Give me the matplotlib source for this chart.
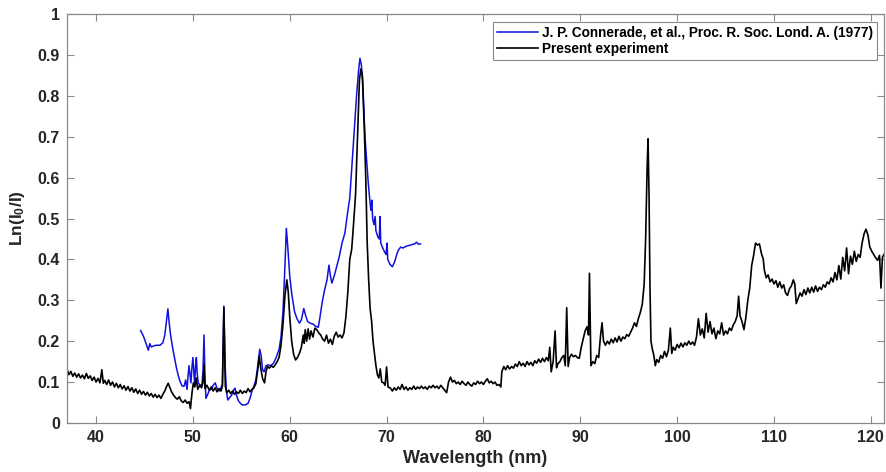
import numpy as np
import matplotlib.pyplot as plt

plt.rcParams['font.family'] = ['Liberation Sans', 'DejaVu Sans']
plt.rcParams['font.weight'] = 'bold'
plt.rcParams['mathtext.fontset'] = 'custom'
plt.rcParams['mathtext.rm'] = 'Liberation Sans:bold'
plt.rcParams['mathtext.it'] = 'Liberation Sans:bold'
plt.rcParams['mathtext.bf'] = 'Liberation Sans:bold'

# Present experiment (black)
wl_exp = [
    37.0, 37.2, 37.4, 37.6, 37.8, 38.0, 38.2, 38.4, 38.6, 38.8, 39.0, 39.2, 39.4, 39.6, 39.8,
    40.0, 40.2, 40.4, 40.6, 40.75, 40.9, 41.1, 41.3, 41.5, 41.7, 41.9, 42.1, 42.3, 42.5, 42.7,
    42.9, 43.1, 43.3, 43.5, 43.7, 43.9, 44.1, 44.3, 44.5, 44.7, 44.9, 45.1, 45.3, 45.5, 45.7,
    45.9, 46.1, 46.3, 46.5, 46.7, 46.9, 47.1, 47.3, 47.45, 47.6, 47.8, 48.0, 48.2, 48.4, 48.6,
    48.8, 49.0, 49.2, 49.4, 49.6, 49.75, 49.9, 50.05, 50.2, 50.35, 50.5, 50.7, 50.9, 51.05, 51.15,
    51.25, 51.45, 51.7, 51.9, 52.1, 52.3, 52.5, 52.7, 52.9, 53.05, 53.2, 53.35, 53.5, 53.7, 53.9,
    54.1, 54.3, 54.5, 54.7, 54.9, 55.1, 55.3, 55.5, 55.7, 55.9, 56.1, 56.3, 56.5, 56.7, 56.85,
    57.0, 57.2, 57.4, 57.55, 57.7, 57.9, 58.1, 58.3, 58.5, 58.7, 58.9, 59.1, 59.3, 59.5, 59.7,
    59.85, 60.0, 60.2, 60.4, 60.6, 60.8, 61.0, 61.2, 61.4, 61.5, 61.6, 61.75, 61.9, 62.05, 62.2,
    62.4, 62.6, 62.8, 63.0, 63.2, 63.4, 63.6, 63.8, 64.0, 64.2, 64.4, 64.6, 64.8, 65.0, 65.2,
    65.4, 65.6, 65.8, 66.0, 66.2, 66.4, 66.6, 66.8, 67.0, 67.2, 67.35, 67.5, 67.7, 67.85, 68.0,
    68.15, 68.3, 68.45, 68.6, 68.75, 68.9, 69.05, 69.2, 69.35, 69.5, 69.7, 69.85, 70.0, 70.15, 70.4,
    70.6, 70.8, 71.0, 71.2, 71.4, 71.6, 71.8, 72.0, 72.2, 72.4, 72.6, 72.8, 73.0, 73.2, 73.4,
    73.6, 73.8, 74.0, 74.2, 74.4, 74.6, 74.8, 75.0, 75.2, 75.4, 75.6, 75.8, 76.0, 76.2, 76.4,
    76.6, 76.8, 77.0, 77.2, 77.4, 77.6, 77.8, 78.0, 78.2, 78.4, 78.6, 78.8, 79.0, 79.2, 79.4,
    79.6, 79.8, 80.0, 80.2, 80.4, 80.6, 80.8, 81.0, 81.2, 81.4, 81.6, 81.8, 81.9, 82.1, 82.3,
    82.5, 82.7, 82.9, 83.1, 83.3, 83.5, 83.7, 83.9, 84.1, 84.3, 84.5, 84.7, 84.9, 85.1, 85.3,
    85.5, 85.7, 85.9, 86.1, 86.3, 86.5, 86.7, 86.85, 87.0, 87.2, 87.4, 87.55, 87.7, 87.9, 88.1,
    88.3, 88.45, 88.6, 88.75, 88.9, 89.1, 89.3, 89.5, 89.7, 89.9, 90.1, 90.3, 90.5, 90.7, 90.85,
    90.95, 91.1, 91.3, 91.5, 91.7, 91.9, 92.1, 92.25, 92.4, 92.6, 92.8, 93.0, 93.2, 93.4, 93.6,
    93.8, 94.0, 94.2, 94.4, 94.6, 94.8, 95.0, 95.2, 95.4, 95.6, 95.8, 96.0, 96.2, 96.4, 96.6,
    96.75, 96.9, 97.0, 97.1, 97.2, 97.3, 97.45, 97.6, 97.75, 97.9, 98.1, 98.3, 98.5, 98.7, 98.9,
    99.1, 99.3, 99.45, 99.6, 99.8, 100.0, 100.2, 100.4, 100.6, 100.8, 101.0, 101.2, 101.4, 101.6, 101.8,
    102.0, 102.2, 102.4, 102.6, 102.8, 103.0, 103.2, 103.4, 103.6, 103.8, 104.0, 104.2, 104.4, 104.6, 104.8,
    105.0, 105.2, 105.4, 105.6, 105.8, 106.0, 106.2, 106.35, 106.5, 106.7, 106.9, 107.1, 107.3, 107.5, 107.7,
    107.9, 108.1, 108.3, 108.5, 108.7, 108.9, 109.0, 109.2, 109.4, 109.6, 109.8, 110.0, 110.2, 110.4, 110.6,
    110.8, 111.0, 111.2, 111.4, 111.6, 111.8, 112.0, 112.15, 112.3, 112.5, 112.7, 112.9, 113.1, 113.3, 113.5,
    113.7, 113.9, 114.1, 114.3, 114.5, 114.7, 114.9, 115.1, 115.3, 115.5, 115.7, 115.9, 116.1, 116.3, 116.5,
    116.7, 116.9, 117.1, 117.3, 117.5, 117.7, 117.9, 118.1, 118.3, 118.5, 118.7, 118.9, 119.1, 119.3, 119.5,
    119.7, 119.9, 120.1, 120.3, 120.5, 120.7, 120.9, 121.05, 121.2, 121.35,
]
ln_exp = [
    0.132, 0.118, 0.126, 0.114, 0.122, 0.112, 0.120, 0.110, 0.117, 0.108, 0.121, 0.109, 0.115, 0.104, 0.112,
    0.100, 0.109, 0.098, 0.130, 0.097, 0.104, 0.094, 0.105, 0.092, 0.100, 0.088, 0.097, 0.086, 0.094, 0.083,
    0.091, 0.080, 0.089, 0.078, 0.086, 0.075, 0.083, 0.072, 0.080, 0.070, 0.077, 0.068, 0.075, 0.066, 0.072,
    0.063, 0.070, 0.062, 0.068, 0.060, 0.070, 0.078, 0.090, 0.097, 0.088, 0.076, 0.068, 0.062, 0.058, 0.064,
    0.054, 0.050, 0.056, 0.048, 0.052, 0.035, 0.072, 0.098, 0.088, 0.110, 0.082, 0.092, 0.086, 0.100, 0.142,
    0.084, 0.092, 0.080, 0.088, 0.078, 0.086, 0.076, 0.084, 0.078, 0.090, 0.282, 0.090, 0.074, 0.080, 0.072,
    0.078, 0.070, 0.076, 0.072, 0.080, 0.072, 0.078, 0.074, 0.084, 0.076, 0.082, 0.086, 0.096, 0.130, 0.164,
    0.135, 0.108, 0.098, 0.125, 0.138, 0.134, 0.140, 0.136, 0.142, 0.150, 0.160, 0.190, 0.240, 0.310, 0.350,
    0.320, 0.260, 0.200, 0.168, 0.154, 0.160, 0.170, 0.185, 0.215, 0.195, 0.228, 0.200, 0.230, 0.205, 0.225,
    0.210, 0.232, 0.228, 0.220, 0.215, 0.205, 0.200, 0.215, 0.195, 0.205, 0.192, 0.212, 0.222, 0.210, 0.215,
    0.208, 0.220, 0.260, 0.320, 0.400, 0.425, 0.490, 0.560, 0.700, 0.840, 0.866, 0.850, 0.720, 0.600, 0.440,
    0.350, 0.280, 0.250, 0.200, 0.170, 0.140, 0.118, 0.110, 0.132, 0.100, 0.098, 0.092, 0.137, 0.088, 0.085,
    0.078, 0.086, 0.080, 0.088, 0.082, 0.094, 0.082, 0.088, 0.080, 0.086, 0.082, 0.090, 0.082, 0.088, 0.084,
    0.090, 0.084, 0.088, 0.082, 0.090, 0.086, 0.092, 0.086, 0.090, 0.084, 0.092, 0.086, 0.080, 0.074, 0.100,
    0.112, 0.100, 0.104, 0.096, 0.100, 0.094, 0.102, 0.096, 0.092, 0.100, 0.094, 0.090, 0.098, 0.094, 0.102,
    0.096, 0.100, 0.094, 0.102, 0.108, 0.098, 0.102, 0.096, 0.100, 0.092, 0.094, 0.088, 0.125, 0.138, 0.130,
    0.140, 0.132, 0.138, 0.134, 0.144, 0.138, 0.150, 0.140, 0.146, 0.138, 0.150, 0.142, 0.148, 0.140, 0.152,
    0.146, 0.156, 0.148, 0.158, 0.150, 0.160, 0.152, 0.185, 0.125, 0.150, 0.225, 0.135, 0.145, 0.150, 0.160,
    0.165, 0.140, 0.282, 0.138, 0.160, 0.168, 0.162, 0.165, 0.160, 0.158, 0.185, 0.205, 0.225, 0.235, 0.215,
    0.366, 0.140, 0.150, 0.145, 0.165, 0.160, 0.215, 0.245, 0.200, 0.190, 0.200, 0.193, 0.205, 0.196, 0.208,
    0.198, 0.212, 0.200, 0.210, 0.206, 0.216, 0.212, 0.222, 0.232, 0.245, 0.236, 0.255, 0.270, 0.290, 0.340,
    0.450, 0.620, 0.695, 0.560, 0.330, 0.200, 0.180, 0.165, 0.140, 0.155, 0.148, 0.165, 0.158, 0.175, 0.162,
    0.178, 0.232, 0.170, 0.185, 0.178, 0.192, 0.184, 0.195, 0.186, 0.196, 0.190, 0.200, 0.192, 0.198, 0.190,
    0.210, 0.255, 0.215, 0.230, 0.208, 0.268, 0.222, 0.248, 0.218, 0.232, 0.206, 0.225, 0.218, 0.245, 0.215,
    0.225, 0.218, 0.232, 0.226, 0.240, 0.248, 0.262, 0.310, 0.262, 0.248, 0.228, 0.258, 0.300, 0.330, 0.385,
    0.410, 0.440, 0.435, 0.438, 0.415, 0.400, 0.375, 0.355, 0.362, 0.345, 0.352, 0.340, 0.348, 0.332, 0.345,
    0.330, 0.338, 0.318, 0.312, 0.328, 0.335, 0.350, 0.340, 0.292, 0.305, 0.318, 0.310, 0.326, 0.314, 0.330,
    0.318, 0.332, 0.320, 0.335, 0.322, 0.332, 0.326, 0.338, 0.332, 0.345, 0.340, 0.355, 0.345, 0.368, 0.350,
    0.385, 0.352, 0.405, 0.372, 0.428, 0.365, 0.408, 0.388, 0.420, 0.395, 0.412, 0.405, 0.440, 0.462, 0.474,
    0.460, 0.430, 0.420, 0.412, 0.404, 0.398, 0.410, 0.330, 0.405, 0.412,
]

# Connerade et al. 1977 (blue)
wl_ref = [
    44.6, 44.9, 45.2, 45.4, 45.55, 45.7, 45.9, 46.2, 46.6, 46.9, 47.1, 47.3, 47.42, 47.55, 47.7,
    47.9, 48.1, 48.3, 48.5, 48.7, 48.9, 49.1, 49.25, 49.4, 49.5, 49.6, 49.7, 49.8, 49.9, 50.0,
    50.1, 50.18, 50.28, 50.36, 50.45, 50.55, 50.75, 50.95, 51.05, 51.15, 51.25, 51.35, 51.5, 51.7, 51.9,
    52.1, 52.3, 52.5, 52.7, 52.9, 53.05, 53.2, 53.33, 53.45, 53.6, 53.8, 54.0, 54.2, 54.35, 54.5,
    54.7, 54.9, 55.1, 55.4, 55.7, 55.9, 56.1, 56.3, 56.5, 56.7, 56.9, 57.05, 57.2, 57.35, 57.55,
    57.8, 58.0, 58.3, 58.6, 58.9, 59.1, 59.3, 59.5, 59.65, 59.8, 60.0, 60.2, 60.5, 60.75, 61.0,
    61.2, 61.45, 61.65, 61.85, 62.1, 62.4, 62.7, 62.95, 63.1, 63.35, 63.6, 63.85, 64.05, 64.2, 64.35,
    64.6, 64.85, 65.1, 65.4, 65.7, 65.95, 66.2, 66.45, 66.7, 66.9, 67.1, 67.25, 67.4, 67.55, 67.7,
    67.8, 67.95, 68.1, 68.25, 68.38, 68.48, 68.56, 68.7, 68.82, 68.9, 69.1, 69.25, 69.32, 69.4, 69.6,
    69.8, 69.95, 70.05, 70.12, 70.35, 70.6, 70.85, 71.05, 71.2, 71.45, 71.7, 72.0, 72.3, 72.6, 72.9,
    73.1, 73.3, 73.5,
]
ln_ref = [
    0.226, 0.212, 0.192, 0.178, 0.194, 0.186, 0.188, 0.190, 0.190, 0.196, 0.215, 0.255, 0.279, 0.245, 0.215,
    0.185, 0.160, 0.135, 0.115, 0.100, 0.090, 0.090, 0.105, 0.082, 0.115, 0.140, 0.120, 0.098, 0.135, 0.160,
    0.125, 0.095, 0.140, 0.160, 0.120, 0.098, 0.092, 0.095, 0.130, 0.215, 0.110, 0.060, 0.068, 0.080, 0.082,
    0.092, 0.098, 0.085, 0.078, 0.086, 0.095, 0.286, 0.140, 0.080, 0.056, 0.062, 0.068, 0.080, 0.085, 0.068,
    0.054, 0.048, 0.044, 0.044, 0.048, 0.060, 0.078, 0.090, 0.105, 0.140, 0.180, 0.165, 0.130, 0.125, 0.140,
    0.142, 0.140, 0.145, 0.160, 0.180, 0.210, 0.270, 0.380, 0.476, 0.430, 0.360, 0.317, 0.272, 0.255, 0.244,
    0.252, 0.280, 0.262, 0.248, 0.244, 0.242, 0.236, 0.234, 0.255, 0.295, 0.325, 0.350, 0.386, 0.360, 0.342,
    0.360, 0.382, 0.405, 0.440, 0.465, 0.510, 0.550, 0.640, 0.730, 0.800, 0.860, 0.892, 0.875, 0.830, 0.740,
    0.690, 0.640, 0.590, 0.550, 0.520, 0.545, 0.500, 0.485, 0.505, 0.470, 0.455, 0.450, 0.505, 0.440, 0.428,
    0.418, 0.412, 0.440, 0.400, 0.388, 0.382, 0.395, 0.412, 0.422, 0.430, 0.428, 0.432, 0.434, 0.436, 0.438,
    0.442, 0.437, 0.438,
]

ref_label = 'J. P. Connerade, et al., Proc. R. Soc. Lond. A. (1977)'
exp_label = 'Present experiment'

fig = plt.figure(figsize=(8.86, 4.72), dpi=100)
ax = fig.add_axes([0.0756, 0.104, 0.922, 0.866])

ax.plot(wl_ref, ln_ref, color='#1010e0', lw=1.1, label=ref_label)
ax.plot(wl_exp, ln_exp, color='black', lw=1.2, label=exp_label)

ax.set_xlim(37, 121.35)
ax.set_ylim(0, 1)
ax.set_xticks(np.arange(40, 121, 10))
ax.set_yticks(np.arange(0, 1.01, 0.1))
ax.set_yticklabels(['0', '0.1', '0.2', '0.3', '0.4', '0.5', '0.6', '0.7', '0.8', '0.9', '1'])

for s in ax.spines.values():
    s.set_color('#8a8a8a')
    s.set_linewidth(0.9)
ax.tick_params(direction='in', length=5, width=0.8, color='#8a8a8a',
               top=True, right=True, labelsize=11.5, labelcolor='#262626', pad=5)
for lab in ax.get_xticklabels() + ax.get_yticklabels():
    lab.set_fontweight('bold')

ax.set_xlabel('Wavelength (nm)', fontsize=13, fontweight='bold', color='#262626', labelpad=4)
ax.set_ylabel(r'Ln(I$_0$/I)', fontsize=12.5, fontweight='bold', color='#262626', labelpad=8)

leg = ax.legend(loc='upper right', bbox_to_anchor=(0.9915, 0.981), borderaxespad=0,
                fancybox=False, edgecolor='#8a8a8a', framealpha=1,
                handlelength=3.0, handletextpad=0.3, borderpad=0.3, labelspacing=0.15,
                prop={'weight': 'bold', 'size': 9.8})
leg.get_frame().set_linewidth(0.8)

fig.savefig('out.png', dpi=100)
